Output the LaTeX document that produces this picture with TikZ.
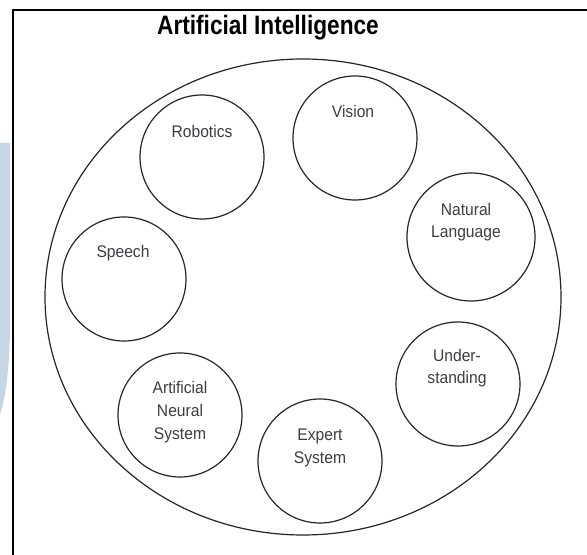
\documentclass[tikz,border=0pt]{standalone}
\usepackage{fontspec}
\setmainfont{Liberation Sans}
\newfontfamily\titlefont[FakeStretch=0.85]{Liberation Sans}
\newfontfamily\topicfont[FakeStretch=0.93]{Liberation Sans}
\usetikzlibrary{shapes.geometric}
\definecolor{inkgray}{rgb}{0.24,0.24,0.26}
\definecolor{wmark}{rgb}{0.78,0.84,0.89}

\begin{document}
\begin{tikzpicture}[x=0.75pt, y=-0.75pt,
        topic/.style={circle, draw=black!85, line width=0.9pt, minimum size=93pt, inner sep=0pt},
        caption/.style={text=inkgray, align=center, font=\topicfont\fontsize{12.6}{17}\selectfont}]
    \useasboundingbox (0,0) rectangle (587,555);
    \fill[white] (0,0) rectangle (587,555);
    % faded mark on the left edge
    \fill[wmark] (0,143) -- (10,143) -- (10,330) .. controls (9,375) and (5,400) .. (0,414) -- cycle;
    % page frame
    \draw[line width=1.6pt] (13,570) -- (13,10) -- (600,10);
    % title
    \node[font=\titlefont\bfseries\fontsize{20}{24}\selectfont] (title) at (268,28) {Artificial Intelligence};
    % outer field
    \node[ellipse, draw=black!85, line width=0.9pt, minimum width=387pt, minimum height=357pt, inner sep=0pt] (ai) at (303,297) {};
    % topics
    \node[topic] (robotics) at (202,157) {};
    \node[topic] (vision) at (355,138) {};
    \node[topic, minimum size=96pt] (language) at (471,237) {};
    \node[topic] (understanding) at (458,384) {};
    \node[topic] (expert) at (320,461) {};
    \node[topic] (neural) at (180,415) {};
    \node[topic] (speech) at (124,279) {};
    % labels
    \node[caption] (roboticslabel) at (202,132) {Robotics};
    \node[caption] (visionlabel) at (353,112) {Vision};
    \node[caption] (languagelabel) at (466,222) {Natural\\Language};
    \node[caption] (understandinglabel) at (457,368) {Under-\\standing};
    \node[caption] (expertlabel) at (320,448) {Expert\\System};
    \node[caption] (neurallabel) at (180,412) {Artificial\\Neural\\System};
    \node[caption] (speechlabel) at (123,253) {Speech};
\end{tikzpicture}
\end{document}
